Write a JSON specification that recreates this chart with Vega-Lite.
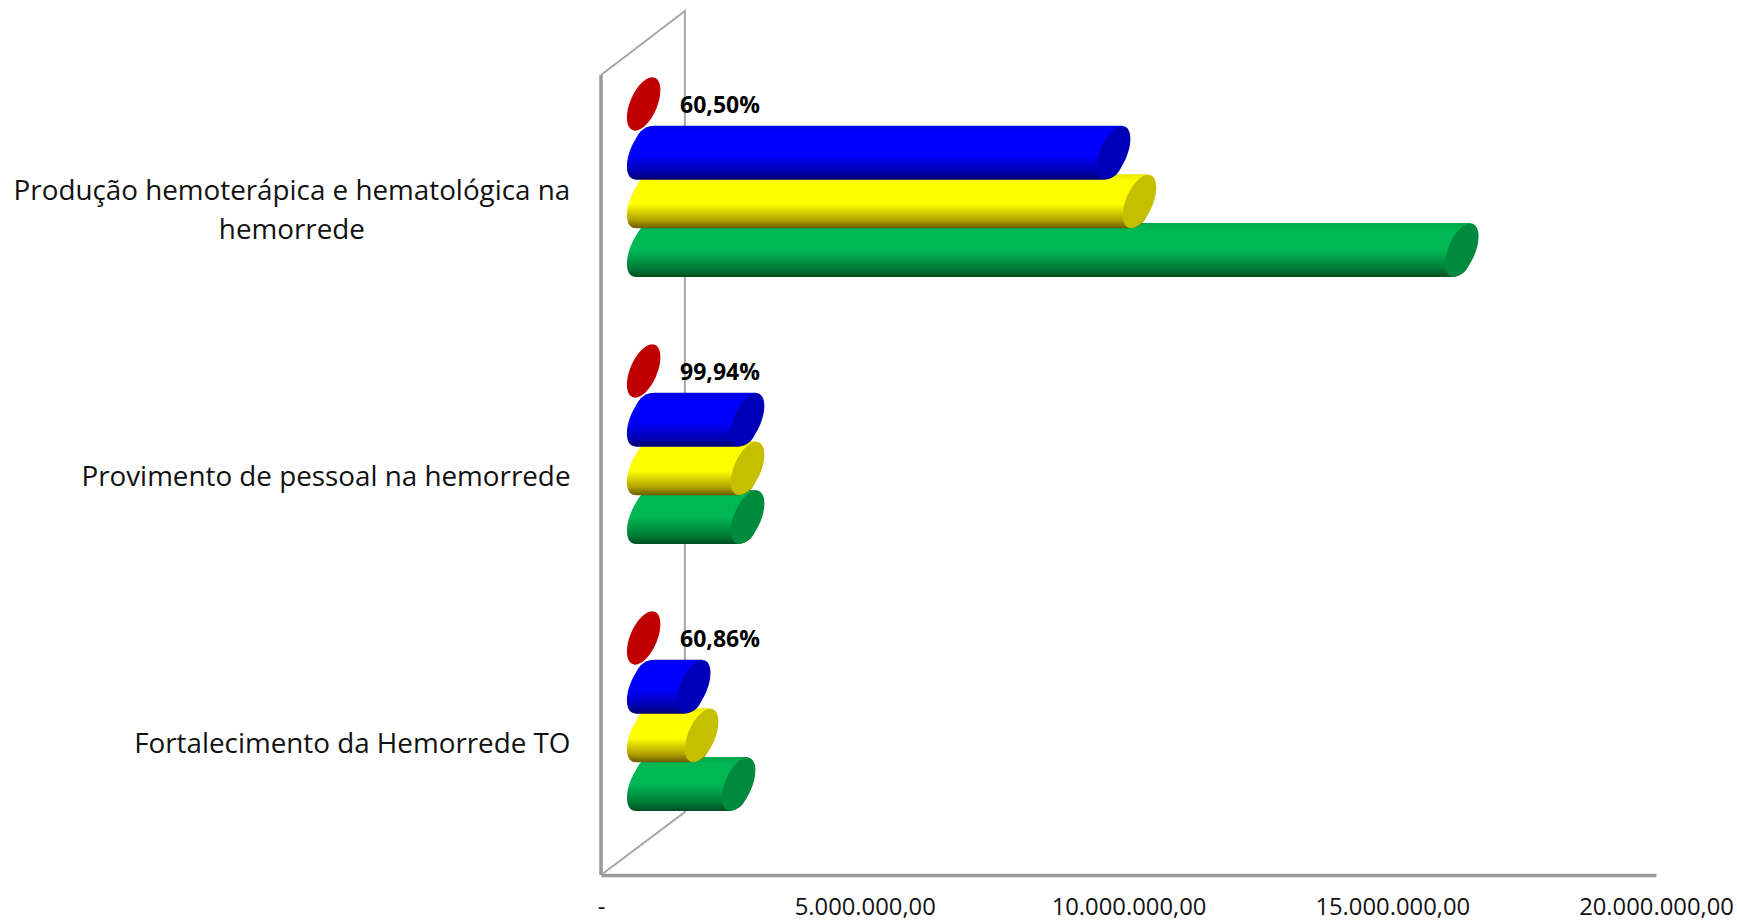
{
"$schema":"https://vega.github.io/schema/vega-lite/v6.json",
"autosize":{"type":"none"},
"padding":{"left":601,"top":11,"right":81,"bottom":45},
"width":1055,"height":864,
"background":"white",
"config":{"view":{"stroke":null},"locale":{"number":{"decimal":",","thousands":".","grouping":[3],"currency":["R$",""]}},"font":"Open Sans"},
"datasets":{
"parede":[{"plano":"lateral","x":0,"h":0,"ordem":1},{"plano":"lateral","x":0,"h":800,"ordem":2},
{"plano":"fundo","x":0,"h":800,"ordem":1},{"plano":"fundo","x":1590000,"h":864,"ordem":2},{"plano":"fundo","x":1590000,"h":63,"ordem":3},{"plano":"fundo","x":0,"h":0,"ordem":4}],
"linhas":[
{"acao":"Produção hemoterápica e hematológica na hemorrede","serie":"Percentual","valor":60.5,"rotulo":"60,50%"},
{"acao":"Produção hemoterápica e hematológica na hemorrede","serie":"Liquidado","valor":8910000},
{"acao":"Produção hemoterápica e hematológica na hemorrede","serie":"Empenhado","valor":9400000},
{"acao":"Produção hemoterápica e hematológica na hemorrede","serie":"Previsto","valor":15510000},
{"acao":"Provimento de pessoal na hemorrede","serie":"Percentual","valor":99.94,"rotulo":"99,94%"},
{"acao":"Provimento de pessoal na hemorrede","serie":"Liquidado","valor":1970000},
{"acao":"Provimento de pessoal na hemorrede","serie":"Empenhado","valor":1970000},
{"acao":"Provimento de pessoal na hemorrede","serie":"Previsto","valor":1971000},
{"acao":"Fortalecimento da Hemorrede TO","serie":"Percentual","valor":60.86,"rotulo":"60,86%"},
{"acao":"Fortalecimento da Hemorrede TO","serie":"Liquidado","valor":950000},
{"acao":"Fortalecimento da Hemorrede TO","serie":"Empenhado","valor":1100000},
{"acao":"Fortalecimento da Hemorrede TO","serie":"Previsto","valor":1800000}
]},
"resolve":{"scale":{"y":"independent"},"axis":{"y":"independent"}},
"layer":[
{"data":{"name":"parede"},"transform":[{"filter":"datum.plano==='fundo'"}],
 "mark":{"type":"line","color":"#a6a6a6","strokeWidth":2},
 "encoding":{"x":{"field":"x","type":"quantitative","title":null,"scale":{"domain":[0,20000000],"nice":false},
   "axis":{"values":[0,5000000,10000000,15000000,20000000],"format":",.2f","labelExpr":"datum.value===0?'-':datum.label","grid":false,"ticks":false,"title":null,"domainColor":"#999999","domainWidth":3.5,"labelFont":"Open Sans","labelFontSize":23.8,"labelColor":"#111111","labelPadding":20,"labelFlush":false,"labelOverlap":false,"labelBound":false}},
  "y":{"field":"h","type":"quantitative","scale":{"domain":[0,864],"nice":false},"axis":null},
  "order":{"field":"ordem"}}},
{"data":{"name":"parede"},"transform":[{"filter":"datum.plano==='lateral'"}],
 "mark":{"type":"line","color":"#999999","strokeWidth":3.5},
 "encoding":{"x":{"field":"x","type":"quantitative","title":null,"scale":{"domain":[0,20000000],"nice":false}},
  "y":{"field":"h","type":"quantitative","scale":{"domain":[0,864],"nice":false},"axis":null},
  "order":{"field":"ordem"}}},
{"data":{"name":"linhas"},
 "encoding":{
  "y":{"field":"acao","type":"nominal","scale":{"type":"band","domain":["Produção hemoterápica e hematológica na hemorrede","Provimento de pessoal na hemorrede","Fortalecimento da Hemorrede TO"],"range":[32.5,833.5],"paddingInner":0.27,"paddingOuter":0.135},
   "axis":{"title":null,"domain":false,"ticks":false,"labelPadding":31,"labelOffset":34,"labelLimit":0,"labelFont":"Open Sans","labelFontSize":27.8,"labelColor":"#111111","labelAlign":"right",
    "labelExpr":"datum.value==='Produção hemoterápica e hematológica na hemorrede'?'':datum.label"}},
  "yOffset":{"field":"serie","type":"nominal","scale":{"domain":["Percentual","Liquidado","Empenhado","Previsto"],"paddingInner":0,"paddingOuter":0}},
  "x":{"field":"valor","type":"quantitative","title":null,"scale":{"domain":[0,20000000],"nice":false}}
 },
 "layer":[
 {"transform":[{"filter":"datum.serie==='Percentual'"}],"mark":{"type":"point","filled":true,"opacity":1,"size":3600,"xOffset":42.7,"fill":"#c00000","stroke":null,"shape":"M.3743,-.8731 C.6027,-.7752,.6203,-.3049,.4136,.1773 C.2069,.6595,-.1459,.971,-.3743,.8731 C-.6027,.7752,-.6203,.3049,-.4136,-.1773 C-.2069,-.6595,.1459,-.971,.3743,-.8731 Z"}},

 {"transform":[{"filter":"datum.serie==='Previsto'"}],"mark":{"type":"point","filled":true,"opacity":1,"size":3600,"xOffset":42.7,"stroke":null,"shape":"M.3743,-.8731 C.6027,-.7752,.6203,-.3049,.4136,.1773 C.2069,.6595,-.1459,.971,-.3743,.8731 C-.6027,.7752,-.6203,.3049,-.4136,-.1773 C-.2069,-.6595,.1459,-.971,.3743,-.8731 Z","fill":{"gradient":"linear","x1":0,"y1":0,"x2":0,"y2":1,"stops":[{"offset":0,"color":"#00a84a"},{"offset":0.12,"color":"#00b853"},{"offset":0.5,"color":"#00b853"},{"offset":0.85,"color":"#007a36"},{"offset":1,"color":"#004d20"}]}},"encoding":{"x":{"datum":0,"type":"quantitative"}}},
 {"transform":[{"filter":"datum.serie==='Previsto'"}],"mark":{"type":"bar","height":54,"xOffset":51.2,"x2Offset":34.2,"cornerRadiusTopLeft":19,"cornerRadiusBottomRight":19,"fill":{"gradient":"linear","x1":0,"y1":0,"x2":0,"y2":1,"stops":[{"offset":0,"color":"#00a84a"},{"offset":0.12,"color":"#00b853"},{"offset":0.5,"color":"#00b853"},{"offset":0.85,"color":"#007a36"},{"offset":1,"color":"#004d20"}]}},"encoding":{"x2":{"datum":0}}},
 {"transform":[{"filter":"datum.serie==='Previsto'"}],"mark":{"type":"point","filled":true,"opacity":1,"size":3600,"xOffset":42.7,"fill":"#008a3e","stroke":null,"shape":"M.3743,-.8731 C.6027,-.7752,.6203,-.3049,.4136,.1773 C.2069,.6595,-.1459,.971,-.3743,.8731 C-.6027,.7752,-.6203,.3049,-.4136,-.1773 C-.2069,-.6595,.1459,-.971,.3743,-.8731 Z"}},

 {"transform":[{"filter":"datum.serie==='Empenhado'"}],"mark":{"type":"point","filled":true,"opacity":1,"size":3600,"xOffset":42.7,"stroke":null,"shape":"M.3743,-.8731 C.6027,-.7752,.6203,-.3049,.4136,.1773 C.2069,.6595,-.1459,.971,-.3743,.8731 C-.6027,.7752,-.6203,.3049,-.4136,-.1773 C-.2069,-.6595,.1459,-.971,.3743,-.8731 Z","fill":{"gradient":"linear","x1":0,"y1":0,"x2":0,"y2":1,"stops":[{"offset":0,"color":"#e8e800"},{"offset":0.12,"color":"#ffff00"},{"offset":0.55,"color":"#ffff00"},{"offset":0.85,"color":"#b0a000"},{"offset":1,"color":"#6b5a00"}]}},"encoding":{"x":{"datum":0,"type":"quantitative"}}},
 {"transform":[{"filter":"datum.serie==='Empenhado'"}],"mark":{"type":"bar","height":54,"xOffset":51.2,"x2Offset":34.2,"cornerRadiusTopLeft":19,"cornerRadiusBottomRight":19,"fill":{"gradient":"linear","x1":0,"y1":0,"x2":0,"y2":1,"stops":[{"offset":0,"color":"#e8e800"},{"offset":0.12,"color":"#ffff00"},{"offset":0.55,"color":"#ffff00"},{"offset":0.85,"color":"#b0a000"},{"offset":1,"color":"#6b5a00"}]}},"encoding":{"x2":{"datum":0}}},
 {"transform":[{"filter":"datum.serie==='Empenhado'"}],"mark":{"type":"point","filled":true,"opacity":1,"size":3600,"xOffset":42.7,"fill":"#c4c000","stroke":null,"shape":"M.3743,-.8731 C.6027,-.7752,.6203,-.3049,.4136,.1773 C.2069,.6595,-.1459,.971,-.3743,.8731 C-.6027,.7752,-.6203,.3049,-.4136,-.1773 C-.2069,-.6595,.1459,-.971,.3743,-.8731 Z"}},

 {"transform":[{"filter":"datum.serie==='Liquidado'"}],"mark":{"type":"point","filled":true,"opacity":1,"size":3600,"xOffset":42.7,"stroke":null,"shape":"M.3743,-.8731 C.6027,-.7752,.6203,-.3049,.4136,.1773 C.2069,.6595,-.1459,.971,-.3743,.8731 C-.6027,.7752,-.6203,.3049,-.4136,-.1773 C-.2069,-.6595,.1459,-.971,.3743,-.8731 Z","fill":{"gradient":"linear","x1":0,"y1":0,"x2":0,"y2":1,"stops":[{"offset":0,"color":"#0000e8"},{"offset":0.12,"color":"#0000ff"},{"offset":0.55,"color":"#0000ff"},{"offset":0.85,"color":"#0000b0"},{"offset":1,"color":"#000070"}]}},"encoding":{"x":{"datum":0,"type":"quantitative"}}},
 {"transform":[{"filter":"datum.serie==='Liquidado'"}],"mark":{"type":"bar","height":54,"xOffset":51.2,"x2Offset":34.2,"cornerRadiusTopLeft":19,"cornerRadiusBottomRight":19,"fill":{"gradient":"linear","x1":0,"y1":0,"x2":0,"y2":1,"stops":[{"offset":0,"color":"#0000e8"},{"offset":0.12,"color":"#0000ff"},{"offset":0.55,"color":"#0000ff"},{"offset":0.85,"color":"#0000b0"},{"offset":1,"color":"#000070"}]}},"encoding":{"x2":{"datum":0}}},
 {"transform":[{"filter":"datum.serie==='Liquidado'"}],"mark":{"type":"point","filled":true,"opacity":1,"size":3600,"xOffset":42.7,"fill":"#0000b8","stroke":null,"shape":"M.3743,-.8731 C.6027,-.7752,.6203,-.3049,.4136,.1773 C.2069,.6595,-.1459,.971,-.3743,.8731 C-.6027,.7752,-.6203,.3049,-.4136,-.1773 C-.2069,-.6595,.1459,-.971,.3743,-.8731 Z"}},

 {"transform":[{"filter":"datum.serie==='Percentual'"}],"mark":{"type":"text","font":"Open Sans","fontWeight":"bold","fontSize":23,"color":"#000000","align":"center","baseline":"middle","xOffset":119,"dy":2},"encoding":{"text":{"field":"rotulo"}}},
 {"transform":[{"filter":"datum.serie==='Percentual' && datum.valor===60.5"}],"mark":{"type":"text","font":"Open Sans","fontSize":27.8,"color":"#111111","align":"center","baseline":"middle","dy":88,"lineHeight":39,"text":["Produção hemoterápica e hematológica na","hemorrede"]},"encoding":{"x":{"datum":-5860000,"type":"quantitative"}}}
 ]}
]
}
